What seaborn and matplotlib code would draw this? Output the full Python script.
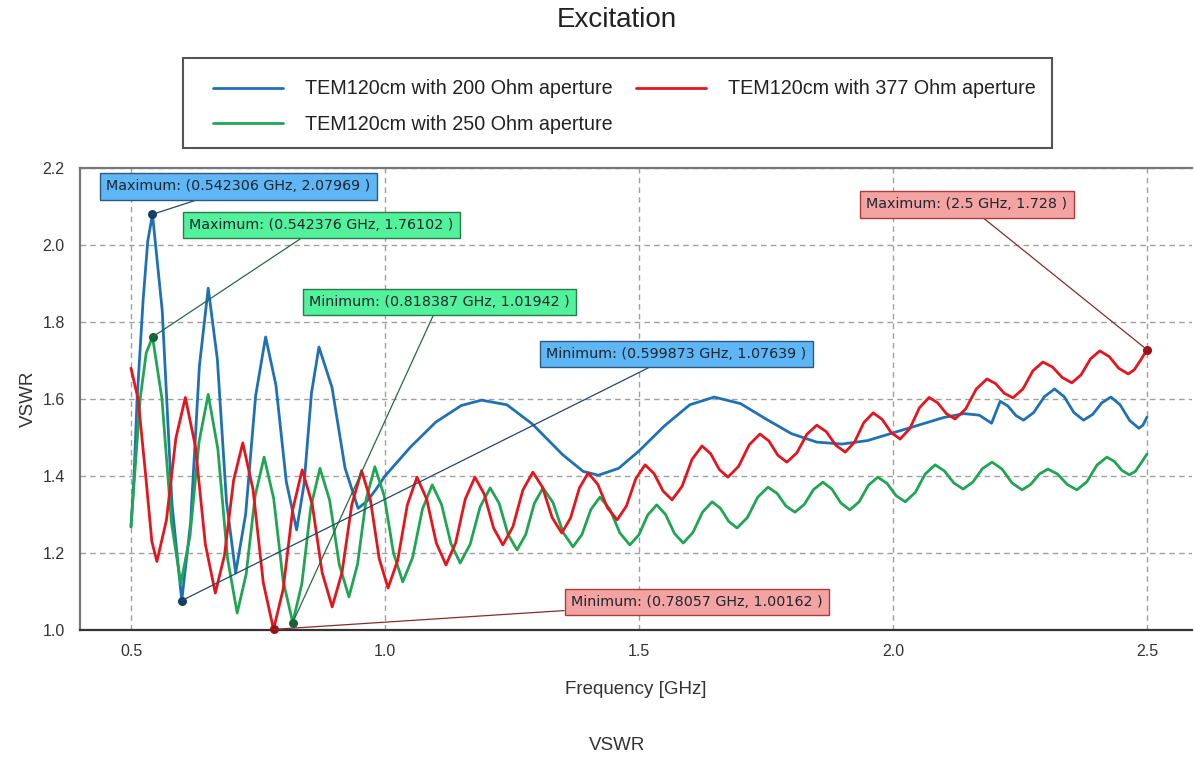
import matplotlib
matplotlib.use("Agg")
import matplotlib.pyplot as plt
from matplotlib.patches import Rectangle
import seaborn as sns
import pandas as pd

# ---------------- data ----------------
series_names = ["TEM120cm with 200 Ohm aperture",
                "TEM120cm with 250 Ohm aperture",
                "TEM120cm with 377 Ohm aperture"]

freq_200 = [0.500, 0.506, 0.512, 0.524, 0.533, 0.5423, 0.5615, 0.5807, 0.5999,
            0.6173, 0.6346, 0.652, 0.670, 0.688, 0.706, 0.7257, 0.7453, 0.765,
            0.7853, 0.8057, 0.826, 0.8407, 0.8553, 0.870, 0.8957, 0.9213, 0.947,
            0.965, 0.982, 1.00, 1.05, 1.10, 1.15, 1.19, 1.24, 1.29, 1.35, 1.39,
            1.42, 1.46, 1.50, 1.55, 1.60, 1.648, 1.70, 1.75, 1.80, 1.85, 1.90,
            1.95, 2.00, 2.05, 2.10, 2.14, 2.17, 2.194, 2.211, 2.226, 2.242, 2.257,
            2.277, 2.298, 2.318, 2.337, 2.356, 2.375, 2.393, 2.411, 2.429, 2.447,
            2.466, 2.484, 2.492, 2.500]
vswr_200 = [1.268, 1.400, 1.600, 1.860, 2.010, 2.0797, 1.829, 1.327, 1.0764,
            1.279, 1.685, 1.888, 1.703, 1.333, 1.148, 1.301, 1.608, 1.761,
            1.636, 1.385, 1.260, 1.379, 1.616, 1.735, 1.630, 1.421, 1.316,
            1.335, 1.365, 1.400, 1.475, 1.540, 1.583, 1.597, 1.585, 1.535, 1.455, 1.412,
            1.402, 1.420, 1.465, 1.530, 1.585, 1.605, 1.588, 1.548, 1.510, 1.488, 1.483,
            1.492, 1.512, 1.532, 1.552, 1.562, 1.558, 1.537, 1.594, 1.582, 1.557, 1.545,
            1.565, 1.606, 1.626, 1.606, 1.565, 1.545, 1.560, 1.590, 1.605, 1.585,
            1.544, 1.524, 1.532, 1.553]

freq_250 = [0.500, 0.507, 0.518, 0.530, 0.5424, 0.5609, 0.5795, 0.598, 0.616, 0.634,
            0.652, 0.671, 0.690, 0.709, 0.7267, 0.7443, 0.762, 0.7808, 0.7996, 0.8184,
            0.8363, 0.8541, 0.872, 0.891, 0.910, 0.929, 0.946, 0.963, 0.980, 0.9983,
            1.0167, 1.035, 1.0543, 1.0737, 1.093, 1.1113, 1.1297, 1.148, 1.1677, 1.1873,
            1.207, 1.2247, 1.2423, 1.260, 1.277, 1.294, 1.311, 1.3307, 1.3503, 1.370,
            1.3877, 1.4053, 1.423, 1.4427, 1.4623, 1.482, 1.4997, 1.5173, 1.535, 1.5523,
            1.5697, 1.587, 1.606, 1.625, 1.644, 1.6603, 1.6767, 1.693, 1.7133, 1.7337,
            1.754, 1.7717, 1.7893, 1.807, 1.8253, 1.8437, 1.862, 1.8797, 1.8973, 1.915,
            1.9333, 1.9517, 1.970, 1.988, 2.006, 2.024, 2.0437, 2.0633, 2.083, 2.1013,
            2.1197, 2.138, 2.157, 2.176, 2.195, 2.2147, 2.2343, 2.254, 2.271, 2.288,
            2.305, 2.324, 2.343, 2.362, 2.3817, 2.4013, 2.421, 2.4357, 2.4503, 2.465,
            2.477, 2.489, 2.500]
vswr_250 = [1.268, 1.400, 1.600, 1.720, 1.761, 1.601, 1.280, 1.120, 1.243, 1.489,
            1.612, 1.470, 1.186, 1.044, 1.145, 1.348, 1.449, 1.342, 1.127, 1.0194,
            1.120, 1.320, 1.420, 1.337, 1.170, 1.086, 1.171, 1.340, 1.424, 1.349,
            1.200, 1.125, 1.188, 1.314, 1.377, 1.326, 1.225, 1.174, 1.223, 1.320,
            1.369, 1.329, 1.248, 1.208, 1.248, 1.329, 1.369, 1.331, 1.254, 1.216,
            1.248, 1.313, 1.345, 1.314, 1.252, 1.221, 1.247, 1.299, 1.325, 1.300,
            1.251, 1.226, 1.253, 1.306, 1.333, 1.316, 1.282, 1.265, 1.292, 1.345,
            1.371, 1.355, 1.322, 1.306, 1.326, 1.365, 1.384, 1.366, 1.330, 1.312,
            1.333, 1.376, 1.397, 1.381, 1.349, 1.333, 1.357, 1.405, 1.429, 1.413,
            1.382, 1.366, 1.384, 1.419, 1.436, 1.418, 1.382, 1.364, 1.378, 1.405,
            1.418, 1.405, 1.378, 1.364, 1.385, 1.428, 1.449, 1.438, 1.415, 1.403,
            1.412, 1.435, 1.457]

freq_377 = [0.500, 0.514, 0.529, 0.541, 0.551, 0.5697, 0.5883, 0.607, 0.6267, 0.6463,
            0.666, 0.684, 0.702, 0.720, 0.7402, 0.7604, 0.7806, 0.7994, 0.8182, 0.837,
            0.8567, 0.8763, 0.896, 0.9153, 0.9347, 0.954, 0.9713, 0.9887, 1.006, 1.025,
            1.044, 1.063, 1.082, 1.101, 1.120, 1.139, 1.158, 1.177, 1.1953, 1.2137,
            1.232, 1.2517, 1.2713, 1.291, 1.310, 1.329, 1.348, 1.3653, 1.3827, 1.400,
            1.419, 1.438, 1.457, 1.4753, 1.4937, 1.512, 1.5297, 1.5473, 1.565, 1.5847,
            1.6043, 1.624, 1.641, 1.658, 1.675, 1.696, 1.717, 1.738, 1.7557, 1.7733,
            1.791, 1.8107, 1.8303, 1.850, 1.8687, 1.8873, 1.906, 1.9243, 1.9427, 1.961,
            1.9787, 1.9963, 2.014, 2.033, 2.052, 2.071, 2.088, 2.105, 2.122, 2.143,
            2.164, 2.185, 2.202, 2.219, 2.236, 2.2557, 2.2753, 2.295, 2.314, 2.333,
            2.352, 2.3703, 2.3887, 2.407, 2.4257, 2.4443, 2.463, 2.475, 2.488, 2.500]
vswr_377 = [1.680, 1.600, 1.400, 1.230, 1.178, 1.285, 1.498, 1.604, 1.477, 1.223,
            1.096, 1.194, 1.389, 1.486, 1.365, 1.123, 1.0016, 1.105, 1.312, 1.416,
            1.327, 1.149, 1.060, 1.149, 1.326, 1.414, 1.338, 1.185, 1.109, 1.181,
            1.325, 1.397, 1.340, 1.226, 1.169, 1.226, 1.340, 1.397, 1.353, 1.265,
            1.221, 1.268, 1.363, 1.410, 1.371, 1.292, 1.252, 1.291, 1.369, 1.408,
            1.378, 1.317, 1.286, 1.322, 1.393, 1.429, 1.406, 1.361, 1.338, 1.373,
            1.443, 1.478, 1.458, 1.417, 1.397, 1.425, 1.481, 1.509, 1.491, 1.454,
            1.436, 1.460, 1.508, 1.532, 1.515, 1.480, 1.462, 1.488, 1.539, 1.564,
            1.547, 1.513, 1.496, 1.523, 1.577, 1.604, 1.590, 1.562, 1.548, 1.574,
            1.626, 1.652, 1.640, 1.615, 1.603, 1.626, 1.673, 1.696, 1.683, 1.656,
            1.642, 1.663, 1.704, 1.725, 1.710, 1.680, 1.665, 1.676, 1.702, 1.728]

# annotated extrema
ann_freq = [0.542306, 0.542376, 0.818387, 0.599873, 2.5, 0.78057]
ann_vswr = [2.07969, 1.76102, 1.01942, 1.07639, 1.728, 1.00162]
ann_kind = ["Maximum", "Maximum", "Minimum", "Minimum", "Maximum", "Minimum"]
ann_freq_txt = ["0.542306", "0.542376", "0.818387", "0.599873", "2.5", "0.78057"]
ann_vswr_txt = ["2.07969", "1.76102", "1.01942", "1.07639", "1.728", "1.00162"]
ann_series = [0, 1, 1, 0, 2, 2]

x_ticks = [0.5, 1.0, 1.5, 2.0, 2.5]
y_ticks = [1.0, 1.2, 1.4, 1.6, 1.8, 2.0, 2.2]

# ---------------- styling ----------------
line_colors = ["#1f71b5", "#1fa653", "#e8141b"]
dot_colors = ["#163e66", "#14643a", "#9c0f14"]
box_fill = ["#5fb6f4", "#52f19c", "#f4a3a3"]
box_edge = ["#2a5985", "#2a7a4a", "#b03a3a"]
conn_colors = ["#23476b", "#256b42", "#8e2a2a"]
# left edge / vertical centre of the annotation boxes (figure pixels, from top-left)
box_pos_px = [(106, 186.5), (189, 225), (309, 302), (546, 354), (866, 204.5), (571, 602)]

W, H = 1194, 757
sns.set_theme(style="white")
plt.rcParams["font.family"] = ["Liberation Sans", "DejaVu Sans"]

fig = plt.figure(figsize=(W / 100, H / 100), dpi=100)
ax = fig.add_axes([80 / W, 1 - 630 / H, (1192 - 80) / W, (630 - 168) / H])

df = pd.concat([
    pd.DataFrame({"freq": freq_200, "vswr": vswr_200, "series": series_names[0]}),
    pd.DataFrame({"freq": freq_250, "vswr": vswr_250, "series": series_names[1]}),
    pd.DataFrame({"freq": freq_377, "vswr": vswr_377, "series": series_names[2]}),
], ignore_index=True)

sns.lineplot(data=df, x="freq", y="vswr", hue="series", hue_order=series_names,
             palette=line_colors, linewidth=2.0, estimator=None, legend=False,
             ax=ax, zorder=3, solid_joinstyle="round", solid_capstyle="round")

ax.set_xlim(0.3996, 2.5886)
ax.set_ylim(1.0, 2.2)
ax.set_xticks(x_ticks)
ax.set_yticks(y_ticks)
ax.set_xticklabels([f"{t:.1f}" for t in x_ticks])
ax.set_yticklabels([f"{t:.1f}" for t in y_ticks])
ax.tick_params(axis="both", length=0, labelsize=11.5, labelcolor="#333333")
ax.tick_params(axis="y", pad=11)
ax.tick_params(axis="x", pad=10)
ax.grid(True, color="#a0a0a0", linestyle=(0, (4, 3)), linewidth=1.0)
ax.set_axisbelow(True)

for side in ["left", "top"]:
    ax.spines[side].set_color("#777777")
    ax.spines[side].set_linewidth(1.6)
ax.spines["bottom"].set_color("#333333")
ax.spines["bottom"].set_linewidth(1.6)
ax.spines["right"].set_visible(False)

ax.set_xlabel("Frequency [GHz]", fontsize=13.5, color="#333333", labelpad=16)
ax.set_ylabel("VSWR", fontsize=13.5, color="#333333", labelpad=4)

# annotated points
for i in range(len(ann_freq)):
    s = ann_series[i]
    ax.scatter([ann_freq[i]], [ann_vswr[i]], s=30, color=dot_colors[s], zorder=5,
               clip_on=False)
    txt = f"{ann_kind[i]}: ({ann_freq_txt[i]} GHz, {ann_vswr_txt[i]} )"
    px, py = box_pos_px[i]
    ax.annotate(txt, xy=(ann_freq[i], ann_vswr[i]), xycoords="data",
                xytext=(px, H - py), textcoords="figure pixels",
                ha="left", va="center", fontsize=10.3, family="DejaVu Sans",
                color="#1e2630", zorder=6, annotation_clip=False,
                bbox=dict(boxstyle="square,pad=0.45", fc=box_fill[s], ec=box_edge[s], lw=1.0),
                arrowprops=dict(arrowstyle="-", color=conn_colors[s], lw=0.9,
                                shrinkA=0, shrinkB=0))

# legend (entries placed without frame; frame drawn as its own box)
handles = ax.get_lines()[:3]
leg = fig.legend(handles, series_names, ncol=2, loc="upper left",
                 bbox_to_anchor=(213 / W, 1 - 79.5 / H), frameon=False,
                 fontsize=14.2, handlelength=3.55, handletextpad=1.12,
                 columnspacing=1.2, labelspacing=0.84, borderpad=0,
                 borderaxespad=0)
for t in leg.get_texts():
    t.set_color("#222222")
fig.add_artist(Rectangle((183 / W, 1 - 148 / H), (1052 - 183) / W, 90 / H,
                         transform=fig.transFigure, fill=False, ec="#555555", lw=1.5))

fig.text(617 / W, 1 - 20 / H, "Excitation", ha="center", va="center", fontsize=20,
         color="#222222")
fig.text(617 / W, 1 - 745 / H, "VSWR", ha="center", va="center", fontsize=13.5,
         color="#333333")

fig.savefig("out.png", dpi=100)
